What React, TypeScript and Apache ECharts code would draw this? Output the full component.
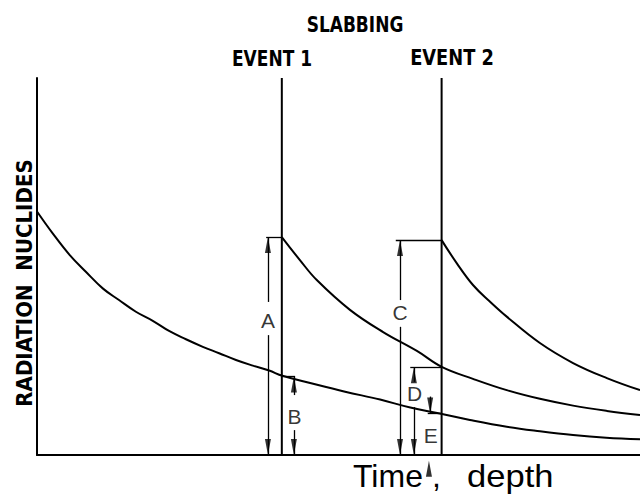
import React, { useEffect, useRef } from "react";
import * as echarts from "echarts";

// Decay curve of the original nuclide inventory (time 0..100, amount 0..100)
const decayInitial: [number, number][] = [
  [0, 64.6], [2.6, 58.8], [5.4, 53.1], [8.1, 48.6], [10.9, 44.2], [13.6, 41.1],
  [16.4, 38.0], [19.2, 35.6], [21.9, 32.9], [24.7, 30.7], [27.5, 28.7], [30.2, 27.0],
  [33.0, 25.2], [35.8, 23.7], [38.5, 22.4], [40.7, 21.0], [45.3, 19.1], [51.1, 16.8],
  [56.9, 14.7], [61.9, 12.6], [66.8, 11.0], [71.8, 9.3], [77.9, 7.5], [83.4, 6.3],
  [88.9, 5.3], [94.4, 4.6], [100, 4.2],
];
// Decay after slabbing event 1
const decayAfterEvent1: [number, number][] = [
  [40.6, 57.8], [43.6, 51.7], [46.4, 46.4], [51.9, 38.5], [57.4, 32.6], [63.0, 27.6],
  [67.2, 23.3], [72.3, 20.2], [77.9, 17.2], [83.4, 14.9], [88.9, 13.1], [94.5, 11.7],
  [100, 10.6],
];
// Decay after slabbing event 2
const decayAfterEvent2: [number, number][] = [
  [67.1, 57.0], [69.6, 50.9], [72.3, 45.1], [75.1, 40.7], [77.9, 36.7], [83.4, 29.7],
  [88.9, 24.4], [94.5, 20.4], [100, 17.2],
];

const eventTimes = [40.6, 67.1];
const eventNames = ["EVENT 1", "EVENT 2"];

// Dimension labels: name, x, y of label
const dimNames = ["A", "B", "C", "D", "E"];
const dimLabelX = [38.3, 42.7, 60.2, 62.6, 65.3];
const dimLabelY = [35.8, 10.1, 37.9, 16.2, 5.3];

// Arrow shafts [x1, y1, x2, y2] (tail -> head)
const shafts: number[][] = [
  [38.3, 40.6, 38.3, 57.8], [38.3, 31.8, 38.3, 0],
  [42.6, 15.9, 42.6, 20.8], [42.6, 6.6, 42.6, 0],
  [60.2, 41.1, 60.2, 57.0], [60.2, 34.0, 60.2, 0],
  [62.5, 19.4, 62.5, 23.3], [62.5, 12.7, 62.5, 0],
  [65.2, 15.5, 65.2, 11.0], [65.0, -5.5, 65.0, -1.5],
];
// Horizontal reference ticks [x1, x2, y]
const ticks: number[][] = [
  [38.0, 40.6, 57.8], [40.6, 42.8, 20.8], [59.5, 67.1, 57.0],
  [61.9, 67.1, 23.3], [64.8, 67.1, 11.0],
];

export default function App() {
  const ref = useRef<HTMLDivElement>(null);
  useEffect(() => {
    if (!ref.current) return;
    const chart = echarts.init(ref.current, undefined, { renderer: "svg" });
    const up: number[][] = [];
    const down: number[][] = [];
    shafts.forEach(([x1, y1, x2, y2]) => {
      if (y2 > y1) up.push([x2, y2]);
      else down.push([x2, y2]);
    });
    const black = "#000";
    const titleFont = "bold 22px 'DejaVu Sans Condensed', 'DejaVu Sans'";
    const curve = (data: [number, number][]) => ({
      type: "line",
      data,
      smooth: 0.4,
      symbol: "none",
      lineStyle: { color: black, width: 2 },
      silent: true,
    });
    chart.setOption({
      animation: false,
      backgroundColor: "#fff",
      grid: { left: 37, right: 0, top: 78, bottom: 40 },
      xAxis: {
        type: "value", min: 0, max: 100,
        axisLine: { show: true, lineStyle: { color: black, width: 2 } },
        axisTick: { show: false }, axisLabel: { show: false }, splitLine: { show: false },
      },
      yAxis: {
        type: "value", min: 0, max: 100,
        axisLine: { show: true, lineStyle: { color: black, width: 2 } },
        axisTick: { show: false }, axisLabel: { show: false }, splitLine: { show: false },
      },
      graphic: [
        { type: "text", x: 355, y: 24, scaleX: 0.86, style: { text: "SLABBING", font: titleFont, fill: black, align: "center", verticalAlign: "middle" } },
        { type: "text", x: 272, y: 58, scaleX: 0.86, style: { text: eventNames[0], font: titleFont, fill: black, align: "center", verticalAlign: "middle" } },
        { type: "text", x: 452, y: 58, scaleX: 0.9, style: { text: eventNames[1], font: titleFont, fill: black, align: "center", verticalAlign: "middle" } },
        { type: "text", x: 24, y: 283, rotation: Math.PI / 2, style: { text: "RADIATION  NUCLIDES", font: titleFont, fill: black, align: "center", verticalAlign: "middle" } },
        { type: "text", x: 353, y: 476, style: { text: "Time", font: "32px 'Liberation Sans', Arial", fill: black, align: "left", verticalAlign: "middle" } },
        { type: "text", x: 432, y: 476, style: { text: ",", font: "32px 'Liberation Sans', Arial", fill: black, align: "left", verticalAlign: "middle" } },
        { type: "text", x: 467, y: 476, scaleX: 1.08, style: { text: "depth", font: "32px 'Liberation Sans', Arial", fill: black, align: "left", verticalAlign: "middle" } },
      ],
      series: [
        curve(decayInitial),
        curve(decayAfterEvent1),
        curve(decayAfterEvent2),
        ...eventTimes.map((t) => ({
          type: "line",
          data: [[t, 0], [t, 100]],
          symbol: "none",
          lineStyle: { color: black, width: 2 },
          silent: true,
        })),
        {
          type: "line",
          data: [],
          clip: false,
          markLine: {
            silent: true,
            symbol: ["none", "none"],
            label: { show: false },
            lineStyle: { color: black, width: 1.3, type: "solid" },
            emphasis: { disabled: true },
            data: [
              ...shafts.map(([x1, y1, x2, y2]) => [{ coord: [x1, y1] }, { coord: [x2, y2] }]),
              ...ticks.map(([x1, x2, y]) => [{ coord: [x1, y] }, { coord: [x2, y] }]),
            ],
          },
        },
        {
          type: "scatter",
          clip: false,
          silent: true,
          data: up,
          symbol: "path://M5,0L10,30L0,30Z",
          symbolSize: [6, 16],
          symbolOffset: [0, "50%"],
          itemStyle: { color: black },
        },
        {
          type: "scatter",
          clip: false,
          silent: true,
          data: down,
          symbol: "path://M0,0L10,0L5,30Z",
          symbolSize: [6, 16],
          symbolOffset: [0, "-50%"],
          itemStyle: { color: black },
        },
        {
          type: "scatter",
          silent: true,
          data: dimNames.map((n, i) => ({ name: n, value: [dimLabelX[i], dimLabelY[i]] })),
          symbolSize: 0,
          label: {
            show: true,
            position: "inside",
            formatter: "{b}",
            color: black,
            fontSize: 21,
            fontFamily: "'Liberation Sans', Arial",
          },
        },
      ],
    });
    return () => chart.dispose();
  }, []);
  return (
    <div
      ref={ref}
      style={{ position: "fixed", left: 0, top: 0, width: 640, height: 495, background: "#fff" }}
    />
  );
}
